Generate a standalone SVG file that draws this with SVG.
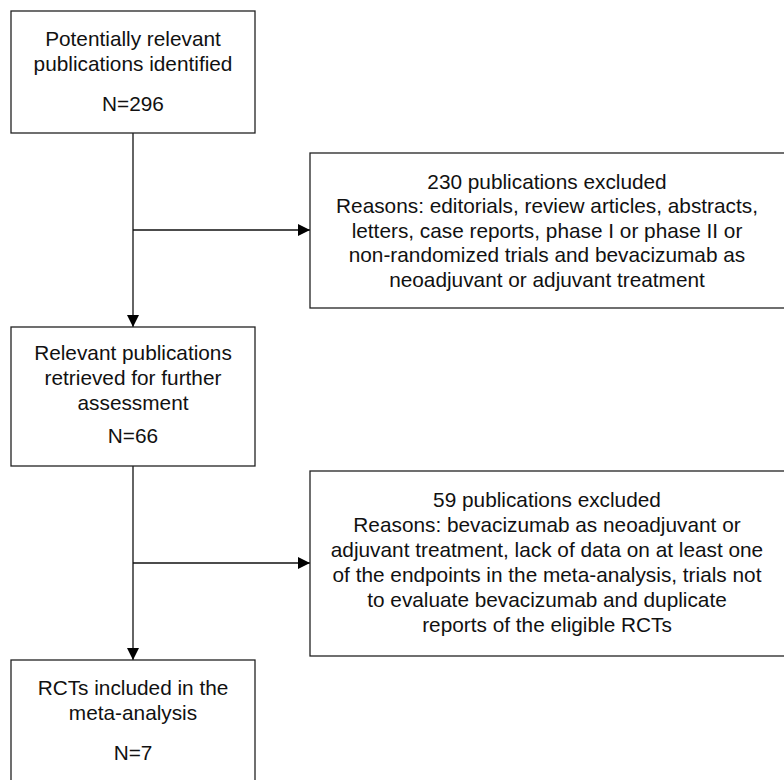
<svg xmlns="http://www.w3.org/2000/svg" width="784" height="780" viewBox="0 0 784 780">
<style>
.box{fill:#fff;stroke:#222;stroke-width:1.3}
.t{font-family:"Liberation Sans",Arial,sans-serif;font-size:20.8px;fill:#111;text-anchor:middle}
.c{fill:none;stroke:#111;stroke-width:1.3}
</style>
<defs>
<marker id="ah" markerWidth="12" markerHeight="12" refX="12" refY="6" orient="auto" markerUnits="userSpaceOnUse">
<path d="M0,0 L12,6 L0,12 Z" fill="#000"/>
</marker>
</defs>
<rect width="784" height="780" fill="#fff"/>
<g id="connectors">
<line class="c" x1="133" y1="133" x2="133" y2="327" marker-end="url(#ah)"/>
<line class="c" x1="133" y1="230" x2="310" y2="230" marker-end="url(#ah)"/>
<line class="c" x1="133" y1="466" x2="133" y2="660" marker-end="url(#ah)"/>
<line class="c" x1="133" y1="563" x2="310" y2="563" marker-end="url(#ah)"/>
</g>
<g id="n1">
<rect class="box" x="11" y="11" width="244" height="122"/>
<text class="t" x="133" y="45.5">Potentially relevant</text>
<text class="t" x="133" y="70.5">publications identified</text>
<text class="t" x="133" y="111">N=296</text>
</g>
<g id="n2">
<rect class="box" x="310" y="153" width="480" height="155"/>
<text class="t" x="547" y="188.5">230 publications excluded</text>
<text class="t" x="547" y="213">Reasons: editorials, review articles, abstracts,</text>
<text class="t" x="547" y="237.5">letters, case reports, phase I or phase II or</text>
<text class="t" x="547" y="262">non-randomized trials and bevacizumab as</text>
<text class="t" x="547" y="286.5">neoadjuvant or adjuvant treatment</text>
</g>
<g id="n3">
<rect class="box" x="11" y="327" width="244" height="139"/>
<text class="t" x="133" y="360">Relevant publications</text>
<text class="t" x="133" y="385">retrieved for further</text>
<text class="t" x="133" y="410">assessment</text>
<text class="t" x="133" y="443">N=66</text>
</g>
<g id="n4">
<rect class="box" x="310" y="471" width="480" height="185"/>
<text class="t" x="547" y="506.5">59 publications excluded</text>
<text class="t" x="547" y="531.5">Reasons: bevacizumab as neoadjuvant or</text>
<text class="t" x="547" y="556.5">adjuvant treatment, lack of data on at least one</text>
<text class="t" x="547" y="581.5">of the endpoints in the meta-analysis, trials not</text>
<text class="t" x="547" y="606.5">to evaluate bevacizumab and duplicate</text>
<text class="t" x="547" y="631.5">reports of the eligible RCTs</text>
</g>
<g id="n5">
<rect class="box" x="11" y="660" width="244" height="130"/>
<text class="t" x="133" y="695">RCTs included in the</text>
<text class="t" x="133" y="720">meta-analysis</text>
<text class="t" x="133" y="760">N=7</text>
</g>
</svg>
